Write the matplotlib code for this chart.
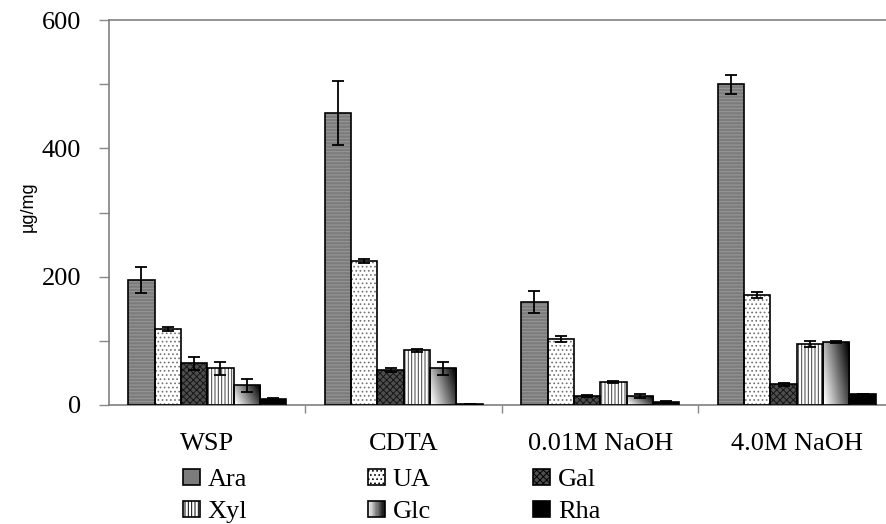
import numpy as np
import matplotlib
matplotlib.use("Agg")
import matplotlib.pyplot as plt
from matplotlib.patches import Rectangle, Patch
from matplotlib.legend_handler import HandlerBase

plt.rcParams['font.family'] = ['Liberation Serif', 'DejaVu Serif']
plt.rcParams['hatch.linewidth'] = 0.7

# data
categories = ['WSP', 'CDTA', '0.01M NaOH', '4.0M NaOH']
sugars = ['Ara', 'UA', 'Gal', 'Xyl', 'Glc', 'Rha']
ara = [195, 455, 160, 500]
ara_err = [20, 50, 17, 15]
ua = [118, 225, 103, 171]
ua_err = [3, 3, 5, 5]
gal = [65, 54, 14, 32]
gal_err = [10, 3, 2, 2]
xyl = [57, 85, 36, 95]
xyl_err = [10, 3, 1, 5]
glc = [31, 57, 14, 98]
glc_err = [10, 10, 3, 2]
rha = [9, 1, 5, 17]
rha_err = [2, 0, 1, 0]

values = [ara, ua, gal, xyl, glc, rha]
errors = [ara_err, ua_err, gal_err, xyl_err, glc_err, rha_err]

# fill style per sugar: (face, hatch, hatch colour)
styles = {
    'Ara': ('#7c7c7c', '-----', '#999999'),
    'UA': ('white', '....', '#707070'),
    'Gal': ('#4e4e4e', 'xxxxx', '#151515'),
    'Xyl': ('white', '|||||', '#404040'),
    'Glc': ('none', None, 'none'),
    'Rha': ('black', None, 'black'),
}

fig = plt.figure(figsize=(8.86, 5.24), dpi=100)
ax = fig.add_axes([0.1230, 0.2271, 0.8871, 0.7347])

x = np.arange(len(categories))
w = 0.134
offsets = (np.arange(len(sugars)) - 2.5) * w

# gradient used for the Glc bars
gx, gy = np.meshgrid(np.linspace(0, 1, 60), np.linspace(0, 1, 60))
grad = 0.85 * gx + 0.35 * gy

for name, vals, errs, off in zip(sugars, values, errors, offsets):
    face, hatch, hcol = styles[name]
    ax.bar(x + off, vals, w, color=face, hatch=hatch, edgecolor=hcol,
           linewidth=0, zorder=2)
    bars = ax.bar(x + off, vals, w, facecolor='none', edgecolor='black',
                  linewidth=1.2, zorder=4)
    if name == 'Glc':
        for r in bars:
            x0, y0 = r.get_x(), r.get_y()
            ax.imshow(grad, cmap='gray_r', vmin=0.05, vmax=1.15, origin='lower',
                      extent=[x0, x0 + r.get_width(), y0, y0 + r.get_height()],
                      aspect='auto', zorder=3)
    ax.errorbar(x + off, vals, yerr=errs, fmt='none', ecolor='black',
                elinewidth=1.3, capsize=4.2, capthick=1.3, zorder=5)

ax.set_xlim(-0.5, 3.5)
ax.set_ylim(0, 600)

# y axis
ax.set_yticks(range(0, 601, 100))
ax.set_yticklabels(['0', '', '200', '', '400', '', '600'], fontsize=19)
ax.tick_params(axis='y', direction='out', length=7, width=1, color='#888888', pad=13)
ax.set_ylabel('µg/mg', fontsize=13, family=['Liberation Sans', 'DejaVu Sans'])
ax.yaxis.set_label_coords(-0.092, 0.514)

# x axis: separators as major ticks, names as minor ticks
ax.set_xticks([0.5, 1.5, 2.5])
ax.set_xticklabels([])
ax.set_xticks(x, minor=True)
ax.set_xticklabels(categories, minor=True, fontsize=19)
ax.tick_params(axis='x', which='major', direction='out', length=6, width=1, color='#888888')
ax.tick_params(axis='x', which='minor', length=0, pad=20)

for s in ['left', 'bottom', 'top']:
    ax.spines[s].set_color('#808080')
    ax.spines[s].set_linewidth(1.2)
ax.spines['right'].set_visible(False)


class GradHandler(HandlerBase):
    def create_artists(self, legend, orig_handle, xdescent, ydescent,
                       width, height, fontsize, trans):
        n = 14
        arts = []
        for i in range(n):
            c = str(0.97 - 0.92 * i / (n - 1))
            arts.append(Rectangle((-xdescent + width * i / n, -ydescent),
                                  width / n + 0.3, height, facecolor=c,
                                  edgecolor='none', transform=trans))
        arts.append(Rectangle((-xdescent, -ydescent), width, height,
                              facecolor='none', edgecolor='black', lw=1.2,
                              transform=trans))
        return arts


def handle(name):
    face, hatch, hcol = styles[name]
    if name == 'Glc':
        return Patch(facecolor='none', edgecolor='black', label=name)
    if name == 'Ara':
        hatch = None
    return Patch(facecolor=face, hatch=hatch, edgecolor='black', lw=1.2,
                 label=name)


columns = [('Ara', 'Xyl'), ('UA', 'Glc'), ('Gal', 'Rha')]
col_x = [183, 368, 533]
for names, cx in zip(columns, col_x):
    hs = [handle(n) for n in names]
    hmap = {h: GradHandler() for h in hs if h.get_label() == 'Glc'}
    fig.legend(handles=hs, loc='upper left',
               bbox_to_anchor=(cx / 886, 1 - 469 / 524),
               frameon=False, fontsize=19, borderpad=0, borderaxespad=0,
               handlelength=0.64, handleheight=0.53, handletextpad=0.3,
               labelspacing=0.38, handler_map=hmap)

fig.savefig('out.png', dpi=100)
